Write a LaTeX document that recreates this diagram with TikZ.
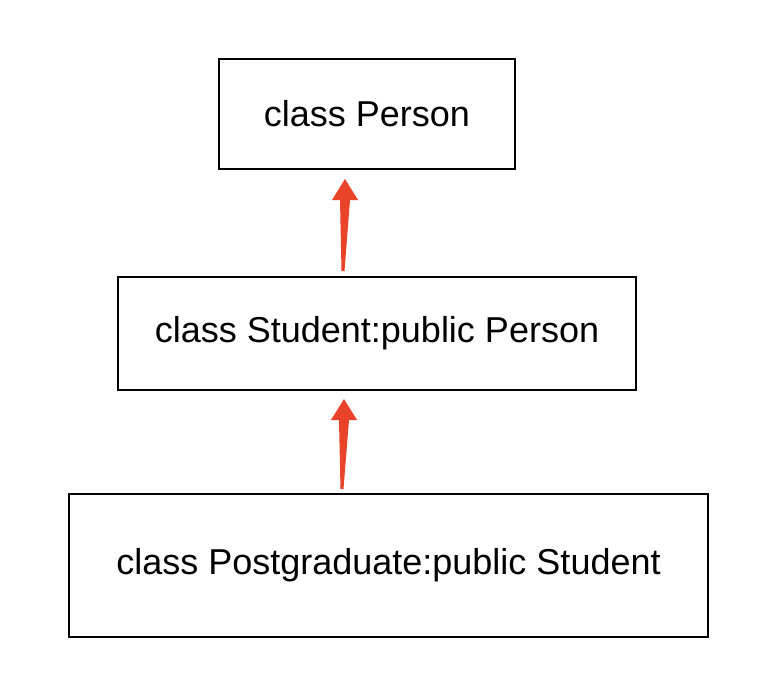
\documentclass[tikz,border=0pt]{standalone}
\usepackage{fontspec}
\setmainfont{Liberation Sans}
\usetikzlibrary{calc,positioning}
\definecolor{arrowred}{RGB}{233,67,42}
\newcommand{\fatarrow}[2]{%
  \fill[arrowred] ($(#1)+(-1.5,0)$) -- ($(#2)+(-5,21)$) -- ($(#2)+(-13,21)$) -- (#2)
    -- ($(#2)+(13,21)$) -- ($(#2)+(5,21)$) -- ($(#1)+(1.5,0)$) -- cycle;}

\begin{document}
\begin{tikzpicture}[x=1pt,y=-1pt,
  classbox/.style={draw,line width=2pt,inner sep=0pt,font=\fontsize{36}{42}\selectfont}]
\useasboundingbox[fill=white] (0,0) rectangle (782,696);
\node[classbox,minimum width=296pt,minimum height=110pt] (per) at (367,114) {class Person};
\node[classbox,minimum width=518pt,minimum height=113pt] (stu) at (377,333.5) {class Student:public Person};
\node[classbox,minimum width=639pt,minimum height=143pt] (pg) at (388.5,565.5) {class Postgraduate:public Student};
% inheritance arrows
\coordinate (s1) at ($(stu.north)+(-34,-5)$);
\coordinate (t1) at ($(per.south)+(-22,9)$);
\coordinate (s2) at ($(pg.north)+(-46.5,-4)$);
\coordinate (t2) at ($(stu.south)+(-33,8)$);
\fatarrow{s1}{t1}
\fatarrow{s2}{t2}
\end{tikzpicture}
\end{document}
